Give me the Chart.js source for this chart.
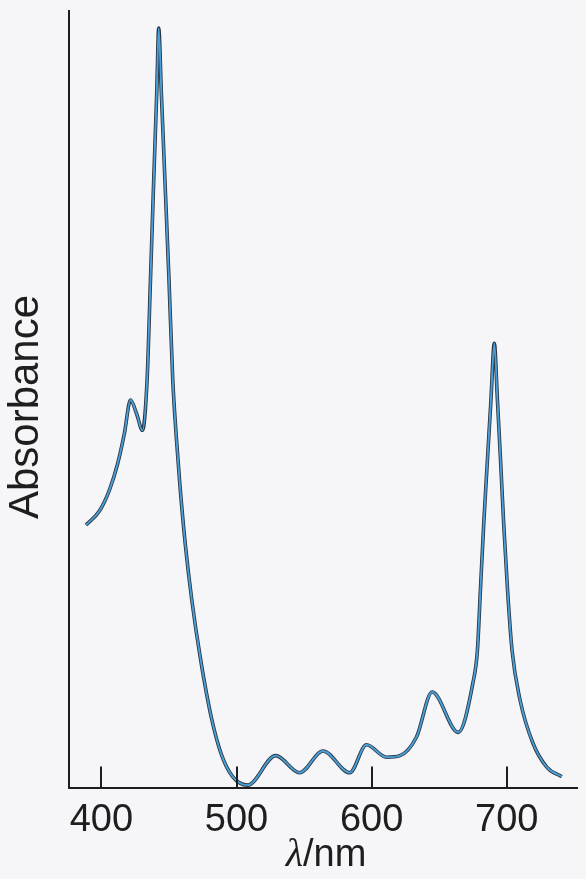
<!DOCTYPE html>
<html>
<head>
<meta charset="utf-8">
<script src="https://cdn.jsdelivr.net/npm/chart.js@4"></script>
<style>
  html, body { margin: 0; padding: 0; background: #f6f6f8; }
  #wrap { width: 586px; height: 879px; position: relative; }
</style>
</head>
<body>
<div id="wrap"><canvas id="c" width="586" height="879"></canvas></div>
<script>
// Absorption spectrum: wavelength (nm) and relative absorbance
const wavelengths = [
  388.6, 398.5, 405.9, 412.0, 417.0, 421.5, 425.9, 430.4, 433.8, 436.3,
  438.7, 441.0, 442.4, 444.4, 447.0, 450.0, 452.8, 455.6, 458.2, 462.2,
  467.0, 473.3, 481.5, 488.9, 497.1, 508.2, 529.0, 546.7, 564.0, 583.8,
  596.2, 611.0, 620.9, 633.2, 644.8, 664.1, 675.0, 678.3, 680.5, 683.1,
  685.7, 688.3, 690.8, 693.1, 695.4, 697.6, 700.6, 703.9, 709.8, 719.4,
  729.8, 740.7
];
const absorbance = [
  0.338, 0.356, 0.383, 0.417, 0.456, 0.499, 0.482, 0.460, 0.525, 0.654,
  0.782, 0.898, 0.978, 0.892, 0.782, 0.654, 0.525, 0.447, 0.387, 0.311,
  0.240, 0.166, 0.089, 0.042, 0.014, 0.003, 0.041, 0.019, 0.047, 0.019,
  0.055, 0.039, 0.041, 0.065, 0.123, 0.071, 0.135, 0.177, 0.254, 0.344,
  0.422, 0.499, 0.572, 0.499, 0.422, 0.344, 0.254, 0.177, 0.113, 0.057,
  0.026, 0.014
];
const tickValues = [400, 500, 600, 700];
const xLabelSymbol = 'λ';
const xLabelUnit = '/nm';
const yLabel = 'Absorbance';

const points = wavelengths.map((w, i) => ({ x: w, y: absorbance[i] }));
const sans = 'Liberation Sans, Arial, sans-serif';
const ink = '#1e1e1e';

// Short tick marks drawn upward from the x axis, inside the plot
const innerTicks = {
  id: 'innerTicks',
  afterDraw(chart) {
    const { ctx, chartArea, scales } = chart;
    ctx.save();
    ctx.strokeStyle = ink;
    ctx.lineWidth = 2;
    tickValues.forEach(v => {
      const x = Math.round(scales.x.getPixelForValue(v));
      ctx.beginPath();
      ctx.moveTo(x, chartArea.bottom);
      ctx.lineTo(x, chartArea.bottom - 21);
      ctx.stroke();
    });
    ctx.restore();
  }
};

// Axis titles: italic serif lambda followed by the unit, and the rotated y title
const axisTitles = {
  id: 'axisTitles',
  afterDraw(chart) {
    const { ctx, chartArea } = chart;
    ctx.save();
    ctx.fillStyle = ink;
    ctx.textBaseline = 'alphabetic';
    const symFont = 'italic 40px Liberation Serif, Times New Roman, serif';
    const unitFont = '38px ' + sans;
    ctx.font = symFont;
    const wSym = ctx.measureText(xLabelSymbol).width;
    ctx.font = unitFont;
    const wUnit = ctx.measureText(xLabelUnit).width;
    const cx = (chartArea.left + chartArea.right) / 2 + 3;
    const x = cx - (wSym + wUnit) / 2;
    const baseY = 866;
    ctx.font = symFont;
    ctx.textAlign = 'left';
    ctx.fillText(xLabelSymbol, x, baseY);
    ctx.font = unitFont;
    ctx.fillText(xLabelUnit, x + wSym, baseY);

    ctx.translate(38, 407);
    ctx.rotate(-Math.PI / 2);
    ctx.font = '42px ' + sans;
    ctx.textAlign = 'center';
    ctx.fillText(yLabel, 0, 0);
    ctx.restore();
  }
};

const curve = {
  data: points,
  pointRadius: 0,
  cubicInterpolationMode: 'monotone',
  fill: false
};

new Chart(document.getElementById('c'), {
  type: 'line',
  data: {
    datasets: [
      // blue core on top, dark edge underneath
      Object.assign({}, curve, { borderColor: '#4a9fd6', borderWidth: 1.9 }),
      Object.assign({}, curve, { borderColor: '#2a3540', borderWidth: 3.6 })
    ]
  },
  options: {
    responsive: false,
    animation: false,
    events: [],
    layout: { padding: { top: 11, right: 9, left: 0, bottom: 0 } },
    plugins: { legend: { display: false }, tooltip: { enabled: false } },
    scales: {
      x: {
        type: 'linear',
        min: 376,
        max: 752,
        afterBuildTicks(scale) { scale.ticks = tickValues.map(v => ({ value: v })); },
        afterFit(scale) { scale.height = 91.5; },
        grid: { display: false, drawTicks: false },
        border: { display: true, color: ink, width: 2 },
        ticks: {
          padding: 10,
          color: ink,
          font: { family: sans, size: 38 },
          maxRotation: 0,
          autoSkip: false
        },
        title: { display: false }
      },
      y: {
        min: 0,
        max: 1,
        afterFit(scale) { scale.width = 69; },
        grid: { display: false, drawTicks: false },
        border: { display: true, color: ink, width: 2 },
        ticks: { display: false },
        title: { display: false }
      }
    }
  },
  plugins: [innerTicks, axisTitles]
});
</script>
</body>
</html>
